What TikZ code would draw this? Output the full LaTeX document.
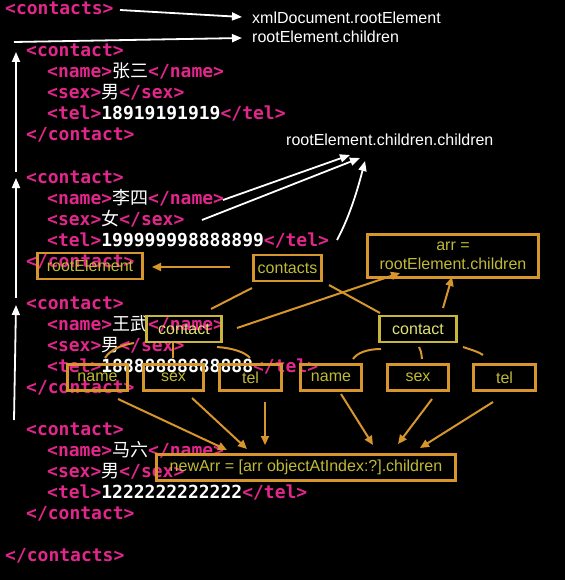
\documentclass[tikz,border=0pt]{standalone}
\usepackage{fontspec}
\setmainfont{Liberation Sans}
\newfontfamily\codefont{DejaVu Sans Mono}
\newfontfamily\hanzifont{Noto Sans CJK SC}
\usetikzlibrary{arrows.meta,calc}

\definecolor{tagpink}{RGB}{226,38,140}
\definecolor{boxorange}{RGB}{214,150,44}
\definecolor{boxyellow}{RGB}{200,182,60}
\definecolor{labelolive}{RGB}{192,186,52}
\definecolor{labellight}{RGB}{226,226,112}

\newcommand\tagtext[1]{\textcolor{tagpink}{#1}}
\newcommand\hanzi[1]{{\mdseries\hanzifont #1}}

\begin{document}
\begin{tikzpicture}[x=1pt,y=-1pt,
  code/.style={anchor=base west, inner sep=0pt, text=white,
    font=\codefont\fontsize{18}{21}\selectfont\bfseries},
  note/.style={anchor=base west, inner sep=0pt, text=white,
    font=\fontsize{16}{19}\selectfont},
  obox/.style={draw=boxorange, line width=2.4pt, inner sep=0pt,
    minimum height=26pt, text=labelolive, align=center,
    font=\fontsize{16}{19}\selectfont},
  ybox/.style={obox, draw=boxyellow, text=labellight},
  warr/.style={draw=white, line width=1.8pt, -{Triangle[length=10pt,width=8pt]}},
  oline/.style={draw=boxorange, line width=2pt},
  oarr/.style={oline, -{Triangle[length=9pt,width=8pt]}}]

% page
\fill[black] (0,0) rectangle (565,580);
\useasboundingbox (0,0) rectangle (565,580);

% XML listing
\node[code] (l1)  at (5,15)   {\tagtext{<contacts>}};
\node[code] (l2)  at (26,57)  {\tagtext{<contact>}};
\node[code] (l3)  at (47,78)  {\tagtext{<name>}\hanzi{张三}\tagtext{</name>}};
\node[code] (l4)  at (47,99)  {\tagtext{<sex>}\hanzi{男}\tagtext{</sex>}};
\node[code] (l5)  at (47,120) {\tagtext{<tel>}18919191919\tagtext{</tel>}};
\node[code] (l6)  at (26,141) {\tagtext{</contact>}};
\node[code] (l7)  at (26,183) {\tagtext{<contact>}};
\node[code] (l8)  at (47,204) {\tagtext{<name>}\hanzi{李四}\tagtext{</name>}};
\node[code] (l9)  at (47,225) {\tagtext{<sex>}\hanzi{女}\tagtext{</sex>}};
\node[code] (l10) at (47,246) {\tagtext{<tel>}199999998888899\tagtext{</tel>}};
\node[code] (l11) at (26,267) {\tagtext{</contact>}};
\node[code] (l12) at (26,309) {\tagtext{<contact>}};
\node[code] (l13) at (47,330) {\tagtext{<name>}\hanzi{王武}\tagtext{</name>}};
\node[code] (l14) at (47,351) {\tagtext{<sex>}\hanzi{男}\tagtext{</sex>}};
\node[code] (l15) at (47,372) {\tagtext{<tel>}18888888888888\tagtext{</tel>}};
\node[code] (l16) at (26,393) {\tagtext{</contact>}};
\node[code] (l17) at (26,435) {\tagtext{<contact>}};
\node[code] (l18) at (47,456) {\tagtext{<name>}\hanzi{马六}\tagtext{</name>}};
\node[code] (l19) at (47,477) {\tagtext{<sex>}\hanzi{男}\tagtext{</sex>}};
\node[code] (l20) at (47,498) {\tagtext{<tel>}1222222222222\tagtext{</tel>}};
\node[code] (l21) at (26,519) {\tagtext{</contact>}};
\node[code] (l22) at (5,561)  {\tagtext{</contacts>}};

% white notes
\node[note] (docRoot)  at (252,24)  {xmlDocument.rootElement};
\node[note] (kids)     at (252,43)  {rootElement.children};
\node[note] (kidsKids) at (286,146) {rootElement.children.children};

% boxes
\node[obox, minimum width=105pt] (bRoot)     at (90,266)    {rootElement};
\node[obox, minimum width=68pt]  (bContacts) at (287.5,268) {contacts};
\node[obox, minimum width=171pt, minimum height=43pt] (bArr) at (453,256) {arr =\\rootElement.children};
\node[ybox, minimum width=75pt]  (bContactL) at (184,329)   {contact};
\node[ybox, minimum width=77pt]  (bContactR) at (418,329)   {contact};
\node[obox, minimum width=60pt]  (bNameL)    at (97.5,377.5)  {name};
\node[obox, minimum width=60pt]  (bSexL)     at (173.5,377.5) {sex};
\node[obox, minimum width=62pt]  (bTelL)     at (250.5,377.5) {tel};
\node[obox, minimum width=61pt]  (bNameR)    at (331,377.5)   {name};
\node[obox, minimum width=61pt]  (bSexR)     at (418,377.5)   {sex};
\node[obox, minimum width=62pt]  (bTelR)     at (504.5,377.5) {tel};
\node[obox, minimum width=299pt] (bNew)      at (306,467.5)   {newArr = [arr objectAtIndex:?].children};

% connector ends
\coordinate (docFrom)  at (120,10);   \coordinate (docTo)  at (242,17);
\coordinate (kidsFrom) at (14,42);    \coordinate (kidsTo) at (242,38);
\coordinate (up1From)  at (16,172);   \coordinate (up1To)  at (16,52);
\coordinate (up2From)  at (16,298);   \coordinate (up2To)  at (16,178);
\coordinate (up3From)  at (14,420);   \coordinate (up3To)  at (16,305);
\coordinate (ccNameFrom) at (223,200); \coordinate (ccNameTo) at (350,155);
\coordinate (ccSexFrom)  at (202,220); \coordinate (ccSexTo)  at (360,158);
\coordinate (ccTelFrom)  at (337,240); \coordinate (ccTelTo)  at (365,161);

\coordinate (contactsW)  at (230,267); \coordinate (rootE)     at (152,267);
\coordinate (contactsSW) at (252,288); \coordinate (contactLNE) at (211,309);
\coordinate (contactsSE) at (329,285); \coordinate (contactRNW) at (380,313);
\coordinate (contactLE)  at (237,328); \coordinate (arrSW)     at (400,273);
\coordinate (contactRN)  at (443,308); \coordinate (arrS)      at (452,277);

\coordinate (lNameA) at (134,343); \coordinate (lNameB) at (105,358);
\coordinate (lSexA)  at (173,343); \coordinate (lSexB)  at (173,358);
\coordinate (lTelA)  at (217,347); \coordinate (lTelB)  at (250,358);
\coordinate (rNameA) at (381,349); \coordinate (rNameB) at (353,359);
\coordinate (rSexA)  at (419,347); \coordinate (rSexB)  at (422,359);
\coordinate (rTelA)  at (463,347); \coordinate (rTelB)  at (483,355);

\coordinate (nameLOut) at (118,399); \coordinate (nameLIn) at (227,450);
\coordinate (sexLOut)  at (192,398); \coordinate (sexLIn)  at (247,449);
\coordinate (telLOut)  at (265,402); \coordinate (telLIn)  at (265,445);
\coordinate (nameROut) at (341,394); \coordinate (nameRIn) at (373,445);
\coordinate (sexROut)  at (432,399); \coordinate (sexRIn)  at (398,444);
\coordinate (telROut)  at (493,402); \coordinate (telRIn)  at (420,448);

% white arrows
\draw[warr] (docFrom) -- (docTo);
\draw[warr] (kidsFrom) -- (kidsTo);
\draw[warr] (up1From) -- (up1To);
\draw[warr] (up2From) -- (up2To);
\draw[warr] (up3From) -- (up3To);
\draw[warr] (ccNameFrom) -- (ccNameTo);
\draw[warr] (ccSexFrom) -- (ccSexTo);
\draw[warr] (ccTelFrom) .. controls (351,214) and (359,184) .. (ccTelTo);

% tree links
\draw[oarr] (contactsW) -- (rootE);
\draw[oline] (contactsSW) -- (contactLNE);
\draw[oline] (contactsSE) -- (contactRNW);
\draw[oarr] (contactLE) -- (arrSW);
\draw[oarr] (contactRN) -- (arrS);

\draw[oline] (lNameA) .. controls (121,345) and (110,350) .. (lNameB);
\draw[oline] (lSexA) -- (lSexB);
\draw[oline] (lTelA) .. controls (232,348) and (245,352) .. (lTelB);
\draw[oline] (rNameA) .. controls (367,349) and (357,353) .. (rNameB);
\draw[oline] (rSexA) .. controls (421,351) .. (rSexB);
\draw[oline] (rTelA) .. controls (472,350) and (479,352) .. (rTelB);

\draw[oarr] (nameLOut) -- (nameLIn);
\draw[oarr] (sexLOut) -- (sexLIn);
\draw[oarr] (telLOut) -- (telLIn);
\draw[oarr] (nameROut) -- (nameRIn);
\draw[oarr] (sexROut) -- (sexRIn);
\draw[oarr] (telROut) -- (telRIn);
\end{tikzpicture}
\end{document}
